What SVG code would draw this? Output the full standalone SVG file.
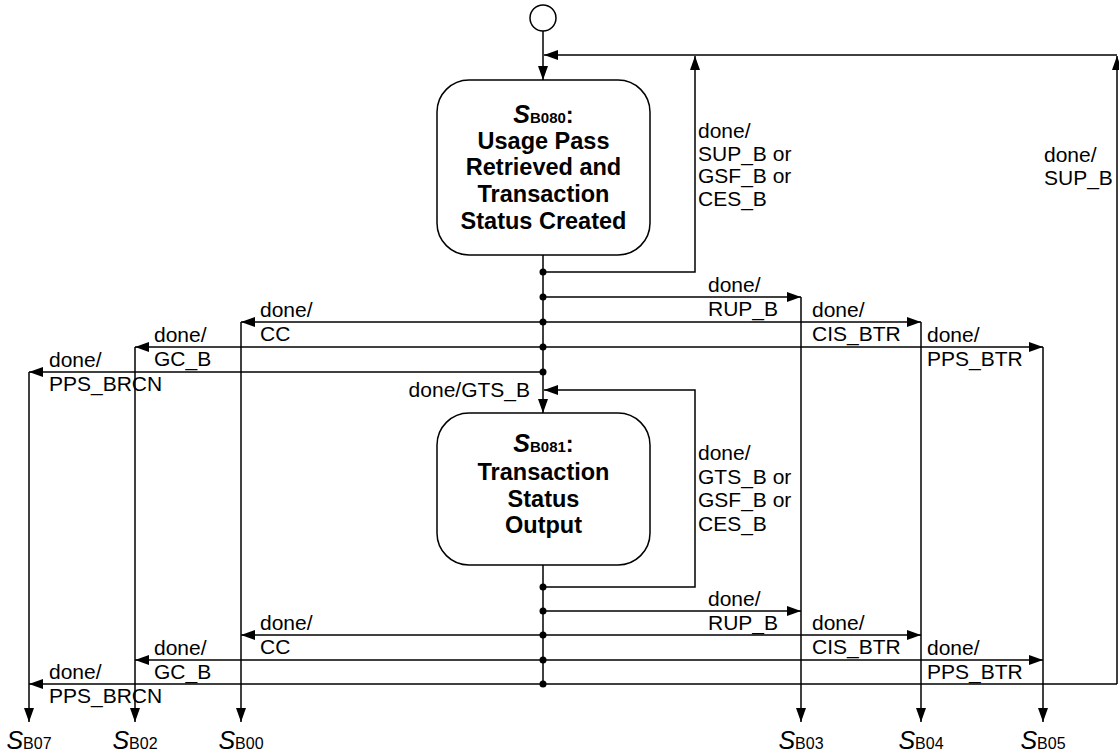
<svg xmlns="http://www.w3.org/2000/svg" width="1119" height="755" viewBox="0 0 1119 755">
<style>
.ln{fill:none;stroke:#000;stroke-width:1.5}
.ar{fill:none;stroke:#000;stroke-width:1.5;marker-end:url(#ah)}
.box{fill:#fff;stroke:#000;stroke-width:1.5}
.t{font-family:"Liberation Sans",Arial,sans-serif;font-size:21px;fill:#000}
.b{font-family:"Liberation Sans",Arial,sans-serif;font-size:23.5px;font-weight:bold;fill:#000;text-anchor:middle}
.s{font-family:"Liberation Sans",Arial,sans-serif;font-size:25px;font-style:italic;fill:#000;text-anchor:middle}
.dot{fill:#000}
</style>
<defs>
<marker id="ah" markerUnits="userSpaceOnUse" markerWidth="15" markerHeight="11" refX="14" refY="5" orient="auto">
<path d="M0,0 L14,5 L0,10 z" fill="#000"/>
</marker>
</defs>
<g id="start"><circle cx="543" cy="18" r="13" fill="#fff" stroke="#000" stroke-width="1.5"/></g>
<g id="SB080">
<rect class="box" x="437" y="80" width="213" height="175" rx="32"/>
<text class="b" x="543.5" y="123"><tspan font-style="italic" font-size="25">S</tspan><tspan font-size="15">B080</tspan>:</text>
<text class="b" x="543.5" y="149">Usage Pass</text>
<text class="b" x="543.5" y="175">Retrieved and</text>
<text class="b" x="543.5" y="202">Transaction</text>
<text class="b" x="543.5" y="229">Status Created</text>
</g>
<g id="SB081">
<rect class="box" x="437" y="413" width="213" height="152" rx="32"/>
<text class="b" x="543.5" y="452"><tspan font-style="italic" font-size="25">S</tspan><tspan font-size="15">B081</tspan>:</text>
<text class="b" x="543.5" y="480">Transaction</text>
<text class="b" x="543.5" y="507">Status</text>
<text class="b" x="543.5" y="533">Output</text>
</g>
<g id="targets">
<text class="s" x="29" y="749">S<tspan font-style="normal" font-size="16">B07</tspan></text>
<text class="s" x="135" y="749">S<tspan font-style="normal" font-size="16">B02</tspan></text>
<text class="s" x="241" y="749">S<tspan font-style="normal" font-size="16">B00</tspan></text>
<text class="s" x="801" y="749">S<tspan font-style="normal" font-size="16">B03</tspan></text>
<text class="s" x="921" y="749">S<tspan font-style="normal" font-size="16">B04</tspan></text>
<text class="s" x="1043" y="749">S<tspan font-style="normal" font-size="16">B05</tspan></text>
</g>
<g id="connectors">
<path class="ar" d="M543,31 V80"/>
<path class="ar" d="M543,255 V413"/>
<path class="ln" d="M543,565 V684"/>
<path class="ar" d="M543,272 H695 V56"/>
<path class="ar" d="M1117,684 V56"/>
<path class="ar" d="M1117,55 H544"/>
<path class="ar" d="M543,587 H695 V390 H544"/>
<path class="ar" d="M543,297 H801"/>
<path class="ar" d="M543,322 H241"/>
<path class="ar" d="M543,322 H921"/>
<path class="ar" d="M543,347 H135"/>
<path class="ar" d="M543,347 H1043"/>
<path class="ar" d="M543,372 H29"/>
<path class="ar" d="M543,611 H801"/>
<path class="ar" d="M543,635 H241"/>
<path class="ar" d="M543,635 H921"/>
<path class="ar" d="M543,660 H135"/>
<path class="ar" d="M543,660 H1043"/>
<path class="ar" d="M543,684 H29"/>
<path class="ln" d="M543,684 H1117"/>
<path class="ar" d="M29,372 V722"/>
<path class="ar" d="M135,347 V722"/>
<path class="ar" d="M241,322 V722"/>
<path class="ar" d="M801,297 V722"/>
<path class="ar" d="M921,322 V722"/>
<path class="ar" d="M1043,347 V722"/>
<g class="dot">
<circle cx="543" cy="272" r="3.5"/><circle cx="543" cy="297" r="3.5"/><circle cx="543" cy="322" r="3.5"/><circle cx="543" cy="347" r="3.5"/><circle cx="543" cy="372" r="3.5"/>
<circle cx="543" cy="587" r="3.5"/><circle cx="543" cy="611" r="3.5"/><circle cx="543" cy="635" r="3.5"/><circle cx="543" cy="660" r="3.5"/><circle cx="543" cy="684" r="3.5"/>
</g>
<text class="t"><tspan x="698" y="138">done/</tspan><tspan x="698" y="161">SUP_B or</tspan><tspan x="698" y="183">GSF_B or</tspan><tspan x="698" y="206">CES_B</tspan></text>
<text class="t"><tspan x="1044" y="162">done/</tspan><tspan x="1044" y="185">SUP_B</tspan></text>
<text class="t"><tspan x="698" y="460">done/</tspan><tspan x="698" y="484">GTS_B or</tspan><tspan x="698" y="507">GSF_B or</tspan><tspan x="698" y="531">CES_B</tspan></text>
<text class="t" x="530" y="397" text-anchor="end">done/GTS_B</text>
<text class="t"><tspan x="708" y="292">done/</tspan><tspan x="708" y="316">RUP_B</tspan></text>
<text class="t"><tspan x="260" y="317">done/</tspan><tspan x="260" y="341">CC</tspan></text>
<text class="t"><tspan x="812" y="317">done/</tspan><tspan x="812" y="341">CIS_BTR</tspan></text>
<text class="t"><tspan x="154" y="342">done/</tspan><tspan x="154" y="366">GC_B</tspan></text>
<text class="t"><tspan x="927" y="342">done/</tspan><tspan x="927" y="366">PPS_BTR</tspan></text>
<text class="t"><tspan x="49" y="367">done/</tspan><tspan x="49" y="391">PPS_BRCN</tspan></text>
<text class="t"><tspan x="708" y="606">done/</tspan><tspan x="708" y="630">RUP_B</tspan></text>
<text class="t"><tspan x="260" y="630">done/</tspan><tspan x="260" y="654">CC</tspan></text>
<text class="t"><tspan x="812" y="630">done/</tspan><tspan x="812" y="654">CIS_BTR</tspan></text>
<text class="t"><tspan x="154" y="655">done/</tspan><tspan x="154" y="679">GC_B</tspan></text>
<text class="t"><tspan x="927" y="655">done/</tspan><tspan x="927" y="679">PPS_BTR</tspan></text>
<text class="t"><tspan x="49" y="679">done/</tspan><tspan x="49" y="703">PPS_BRCN</tspan></text>
</g>
</svg>
